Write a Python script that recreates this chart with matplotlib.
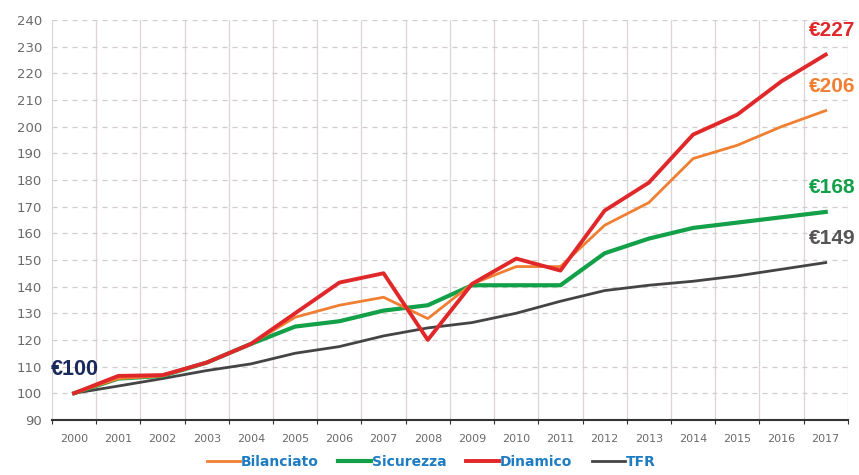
import matplotlib
matplotlib.use("Agg")
import matplotlib.pyplot as plt
import numpy as np

plt.rcParams['font.family'] = ['Liberation Sans', 'DejaVu Sans']

# anni e valori (base 100 nel 2000)
anni = [str(a) for a in range(2000, 2018)]
bilanciato = [100, 105.5, 106.5, 111.5, 118.5, 128.5, 133, 136, 128, 141, 147.5, 147.5, 163, 171.5, 188, 193, 200, 206]
sicurezza = [100, 105.5, 106.5, 111.5, 118.5, 125, 127, 131, 133, 140.5, 140.5, 140.5, 152.5, 158, 162, 164, 166, 168]
dinamico = [100, 106.5, 106.8, 111.5, 118.5, 130, 141.5, 145, 120, 141, 150.5, 146, 168.5, 179, 197, 204.5, 217, 227]
tfr = [100, 102.7, 105.5, 108.5, 111, 115, 117.5, 121.5, 124.5, 126.5, 130, 134.5, 138.5, 140.5, 142, 144, 146.5, 149]

c_bil = '#F07F32'
c_sic = '#12A048'
c_din = '#E0282A'
c_tfr = '#444444'

fig = plt.figure(figsize=(8.59, 4.75), dpi=100)
ax = fig.add_axes([0.0605, 0.116, 0.9265, 0.842])

x = np.arange(len(anni))
ax.plot(x, tfr, color=c_tfr, lw=2.0, label='TFR', zorder=3)
ax.plot(x, sicurezza, color=c_sic, lw=3.0, label='Sicurezza', zorder=4)
ax.plot(x, bilanciato, color=c_bil, lw=2.0, label='Bilanciato', zorder=5)
ax.plot(x, dinamico, color=c_din, lw=2.8, label='Dinamico', zorder=6)

ax.set_xlim(-0.5, len(anni) - 0.5)
ax.set_ylim(90, 240)
ax.set_yticks(np.arange(90, 241, 10))
ax.set_xticks(np.arange(-0.5, len(anni), 1))
ax.set_xticklabels([])
ax.set_xticks(x, minor=True)
ax.set_xticklabels(anni, minor=True, family='DejaVu Sans')
for t in ax.get_yticklabels():
    t.set_family('DejaVu Sans')

ax.tick_params(axis='x', which='major', direction='out', length=3, color='#333333')
ax.tick_params(axis='x', which='minor', length=0, pad=10, labelsize=8, labelcolor='#6a6a6a')
ax.tick_params(axis='y', length=0, pad=7, labelsize=9.5, labelcolor='#6a6a6a')

ax.grid(axis='x', which='major', color='#ddd4d4', lw=0.9)
ax.grid(axis='y', color='#d4caca', lw=0.9, ls=(0, (4, 4)))
for s in ['left', 'right', 'top']:
    ax.spines[s].set_visible(False)
ax.spines['bottom'].set_color('#333333')
ax.spines['bottom'].set_linewidth(1.5)

# etichette valori finali
ax.text(17.15, 236, '€227', color=c_din, fontsize=15, fontweight='bold', ha='center', va='center')
ax.text(17.15, 215, '€206', color=c_bil, fontsize=15, fontweight='bold', ha='center', va='center')
ax.text(17.15, 177, '€168', color=c_sic, fontsize=15, fontweight='bold', ha='center', va='center')
ax.text(17.15, 158, '€149', color='#555555', fontsize=15, fontweight='bold', ha='center', va='center')
ax.text(-0.53, 109, '€100', color='#1B2A5C', fontsize=15.5, fontweight='bold', ha='left', va='center')

handles, labels = ax.get_legend_handles_labels()
order = [2, 1, 3, 0]
leg = ax.legend([handles[i] for i in order], [labels[i] for i in order],
                loc='center', bbox_to_anchor=(0.4765, -0.105), ncol=4, frameon=False,
                handlelength=2.4, handletextpad=0.05, columnspacing=1.4,
                borderpad=0.1, prop={'family': 'DejaVu Sans', 'weight': 'bold', 'size': 10})
for t in leg.get_texts():
    t.set_color('#1E7DC2')

fig.savefig('out.png', dpi=100)
